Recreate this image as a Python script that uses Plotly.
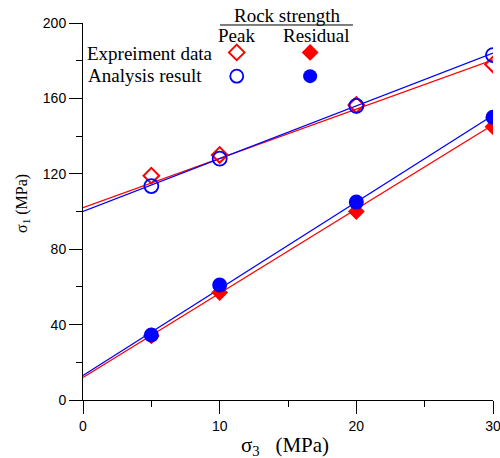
import plotly.graph_objects as go

# data
sigma3 = [5, 10, 20, 30]
peak_exp = [119, 130, 156.5, 178]
peak_ana = [113.5, 128, 156, 183]
res_exp = [34, 57, 100, 145]
res_ana = [34.5, 61, 105, 150]

fit_x = [0, 30]
peak_exp_fit = [102, 180.5]
peak_ana_fit = [100, 184]
res_exp_fit = [12, 146]
res_ana_fit = [13, 151]

x_ticks = [0, 10, 20, 30]
y_ticks = [0, 40, 80, 120, 160, 200]

RED = "#ff0000"
BLUE = "#0000ff"
SERIF = "Liberation Serif, Times New Roman, serif"
SANS = "Liberation Sans, Arial, sans-serif"

fig = go.Figure()

for fy, col in [(peak_exp_fit, RED), (peak_ana_fit, BLUE), (res_exp_fit, RED), (res_ana_fit, BLUE)]:
    fig.add_trace(go.Scatter(x=fit_x, y=fy, mode="lines", line=dict(color=col, width=1.2),
                             showlegend=False, hoverinfo="skip"))

fig.add_trace(go.Scatter(x=sigma3, y=peak_exp, mode="markers",
                         marker=dict(symbol="diamond-open", size=12, color=RED, line=dict(width=2, color=RED)),
                         showlegend=False))
fig.add_trace(go.Scatter(x=sigma3, y=res_exp, mode="markers",
                         marker=dict(symbol="diamond", size=13, color=RED, line=dict(width=0)),
                         showlegend=False))
fig.add_trace(go.Scatter(x=sigma3, y=peak_ana, mode="markers",
                         marker=dict(symbol="circle-open", size=14, color=BLUE, line=dict(width=1.8, color=BLUE)),
                         showlegend=False))
fig.add_trace(go.Scatter(x=sigma3, y=res_ana, mode="markers",
                         marker=dict(symbol="circle", size=15, color=BLUE, line=dict(width=0)),
                         showlegend=False))

# custom legend keys on an invisible overlay axis (0..1)
key_x = [0.375, 0.554]
fig.add_trace(go.Scatter(x=[key_x[0]], y=[0.922], xaxis="x2", yaxis="y2", mode="markers",
                         marker=dict(symbol="diamond-open", size=12, color=RED, line=dict(width=2, color=RED)),
                         showlegend=False, hoverinfo="skip"))
fig.add_trace(go.Scatter(x=[key_x[1]], y=[0.922], xaxis="x2", yaxis="y2", mode="markers",
                         marker=dict(symbol="diamond", size=13, color=RED),
                         showlegend=False, hoverinfo="skip"))
fig.add_trace(go.Scatter(x=[key_x[0]], y=[0.859], xaxis="x2", yaxis="y2", mode="markers",
                         marker=dict(symbol="circle-open", size=13, color=BLUE, line=dict(width=1.8, color=BLUE)),
                         showlegend=False, hoverinfo="skip"))
fig.add_trace(go.Scatter(x=[key_x[1]], y=[0.859], xaxis="x2", yaxis="y2", mode="markers",
                         marker=dict(symbol="circle", size=14, color=BLUE),
                         showlegend=False, hoverinfo="skip"))

axis_common = dict(showgrid=False, zeroline=False, showline=True, linecolor="black", linewidth=1,
                   ticks="outside", ticklen=13, tickcolor="black", tickwidth=1,
                   tickfont=dict(family=SANS, size=14, color="black"),
                   minor=dict(ticks="outside", ticklen=6, tickcolor="black", tickwidth=1),
                   automargin=False, ticklabeloverflow="allow")

fig.update_layout(
    width=500, height=458,
    margin=dict(l=83, r=7, t=23, b=58),
    paper_bgcolor="white", plot_bgcolor="white",
    xaxis=dict(range=[0, 30], tickvals=x_ticks, minor_dtick=5, **axis_common),
    yaxis=dict(range=[0, 200], tickvals=y_ticks, minor_dtick=20, **axis_common),
    xaxis2=dict(range=[0, 1], overlaying="x", visible=False, fixedrange=True),
    yaxis2=dict(range=[0, 1], overlaying="y", visible=False, fixedrange=True),
)

def ann(x, y, text, size, anchor="center", angle=0):
    fig.add_annotation(x=x, y=y, xref="paper", yref="paper", text=text, showarrow=False,
                       font=dict(family=SERIF, size=size, color="black"),
                       xanchor=anchor, yanchor="middle", textangle=angle)

# axis titles
ann(0.4915, -0.122, "σ<sub>3</sub>&nbsp;&nbsp;&nbsp;(MPa)", 21)
ann(-0.149, 0.5225, "σ<sub>1</sub> (MPa)", 16, angle=-90)

# legend header / labels
ann(0.4976, 1.0186, "Rock strength", 19)
fig.add_shape(type="line", xref="paper", yref="paper", x0=0.334, x1=0.6585, y0=0.9947, y1=0.9947,
              line=dict(color="black", width=1))
ann(0.3756, 0.968, "Peak", 19)
ann(0.5707, 0.968, "Residual", 19)
ann(0.322, 0.9204, "Expreiment data", 19, anchor="right")
ann(0.295, 0.862, "Analysis result", 19, anchor="right")

fig.write_html("out.html")
